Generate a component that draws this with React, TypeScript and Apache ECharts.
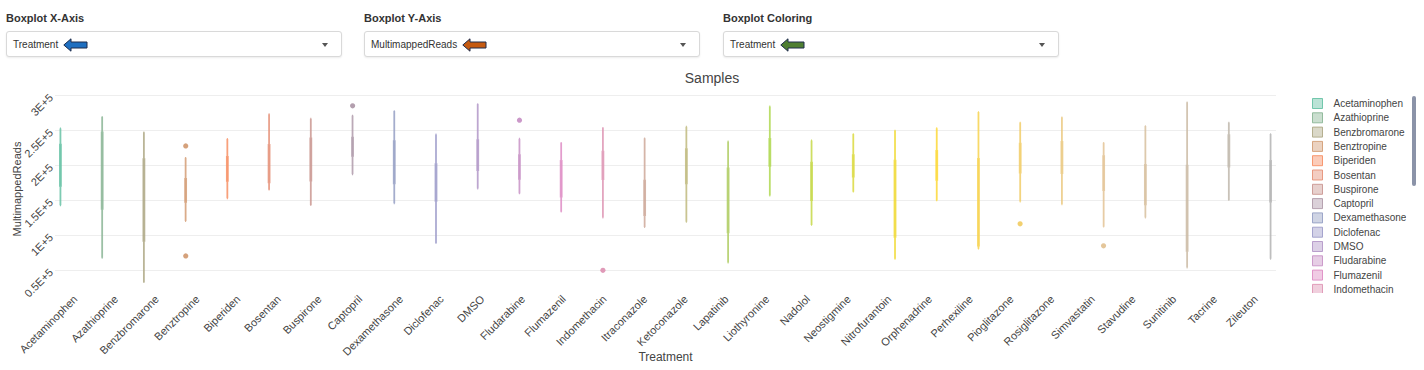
import React, { useEffect, useRef } from "react";
import * as echarts from "echarts";

// ---------- data ----------
const categories = [
  "Acetaminophen", "Azathioprine", "Benzbromarone", "Benztropine", "Biperiden",
  "Bosentan", "Buspirone", "Captopril", "Dexamethasone", "Diclofenac",
  "DMSO", "Fludarabine", "Flumazenil", "Indomethacin", "Itraconazole",
  "Ketoconazole", "Lapatinib", "Liothyronine", "Nadolol", "Neostigmine",
  "Nitrofurantoin", "Orphenadrine", "Perhexiline", "Pioglitazone", "Rosiglitazone",
  "Simvastatin", "Stavudine", "Sunitinib", "Tacrine", "Zileuton",
];
const lowerWhisker = [
  143000, 68000, 33000, 120500, 153000, 165500, 143500, 187500, 146000, 89000,
  167000, 160000, 134000, 125500, 112000, 119500, 61000, 157000, 115000, 162500,
  66500, 150000, 81000, 148500, 144500, 112500, 125500, 54000, 150500, 66500,
];
const q1 = [
  171000, 138000, 92000, 148000, 178000, 176000, 178500, 214000, 174500, 149500,
  193500, 181000, 155500, 180500, 129000, 174500, 104500, 199500, 150500, 184000,
  98000, 179500, 85500, 190000, 189000, 165000, 144500, 78000, 198500, 148500,
];
const median = [
  200000, 192000, 150000, 165000, 195000, 203000, 209000, 227000, 205000, 176000,
  215000, 198000, 181000, 200000, 154000, 199000, 150000, 219000, 177000, 199500,
  152000, 200000, 147000, 210000, 211000, 189000, 172000, 139000, 221000, 177000,
];
const q3 = [
  230000, 247500, 209000, 181000, 212500, 229500, 239000, 240000, 235000, 202000,
  236500, 215000, 206500, 220000, 178500, 223500, 196000, 238000, 204000, 215000,
  207000, 221000, 209500, 231500, 234000, 213500, 201000, 200000, 243500, 206500,
];
const upperWhisker = [
  253000, 269500, 247500, 211000, 238000, 273500, 267000, 271500, 278000, 244500,
  288000, 238500, 232500, 254000, 239000, 255500, 234500, 284500, 236000, 245000,
  250000, 253500, 276500, 261500, 269000, 232500, 256500, 290500, 261500, 245000,
];
const outlierCategory = [
  "Benztropine", "Benztropine", "Captopril", "Fludarabine", "Indomethacin", "Pioglitazone", "Simvastatin",
];
const outlierValue = [228000, 70500, 285500, 265000, 50000, 116500, 85000];
const yTickValues = [50000, 100000, 150000, 200000, 250000, 300000];
// legend entries visible in the scrolled legend window
const visibleLegendCount = 14;

const controlLabels = ["Boxplot X-Axis", "Boxplot Y-Axis", "Boxplot Coloring"];
const controlValues = ["Treatment", "MultimappedReads", "Treatment"];

// ---------- styles ----------
const FONT = '"Liberation Sans", Arial, Helvetica, sans-serif';
const SET2 = ["#66c2a5", "#fc8d62", "#8da0cb", "#e78ac3", "#a6d854", "#ffd92f", "#e5c494", "#b3b3b3"];
const controlLeft = [6, 364, 723];
const controlArrowColor = ["#1f6fc0", "#c55a11", "#4e7e31"];

function hexToRgb(h: string) {
  const n = parseInt(h.slice(1), 16);
  return [(n >> 16) & 255, (n >> 8) & 255, n & 255];
}
function rampColor(i: number, n: number) {
  const t = (i / (n - 1)) * (SET2.length - 1);
  const a = Math.floor(t);
  const b = Math.min(a + 1, SET2.length - 1);
  const f = t - a;
  const ca = hexToRgb(SET2[a]);
  const cb = hexToRgb(SET2[b]);
  return ca.map((v, k) => Math.round(v + (cb[k] - v) * f));
}
function rgba(c: number[], a: number) {
  return `rgba(${c[0]},${c[1]},${c[2]},${a})`;
}

const Arrow = ({ color }: { color: string }) => (
  <svg width="25" height="14" viewBox="0 0 25 14" style={{ display: "block" }}>
    <polygon
      points="0.8,7 8,0.8 8,4 24,4 24,10 8,10 8,13.2"
      fill={color}
      stroke="#1f2d4d"
      strokeWidth="1"
      strokeLinejoin="miter"
    />
  </svg>
);

const Control = ({ i }: { i: number }) => (
  <div style={{ position: "absolute", left: controlLeft[i], top: 0, width: 336 }}>
    <div
      style={{
        position: "absolute", left: 0, top: 11, fontSize: 11, fontWeight: "bold",
        color: "#333", lineHeight: "14px", whiteSpace: "nowrap",
      }}
    >
      {controlLabels[i]}
    </div>
    <div
      style={{
        position: "absolute", left: 0, top: 31, width: 336, height: 26, boxSizing: "border-box",
        border: "1px solid #d9d9d9", borderRadius: 3, background: "#fff",
        boxShadow: "0 1px 2px rgba(0,0,0,0.08)",
      }}
    >
      <div
        style={{
          position: "absolute", left: 6, top: 6, fontSize: 10, color: "#333",
          lineHeight: "12px", display: "flex", alignItems: "center", whiteSpace: "nowrap",
        }}
      >
        <span>{controlValues[i]}</span>
        <span style={{ marginLeft: 5 }}>
          <Arrow color={controlArrowColor[i]} />
        </span>
      </div>
      <div
        style={{
          position: "absolute", right: 13, top: 11, width: 0, height: 0,
          borderLeft: "3px solid transparent", borderRight: "3px solid transparent",
          borderTop: "4px solid #555",
        }}
      />
    </div>
  </div>
);

export default function App() {
  const ref = useRef<HTMLDivElement>(null);

  useEffect(() => {
    if (!ref.current) return;
    const chart = echarts.init(ref.current, undefined, { renderer: "svg" });
    const n = categories.length;
    const colors = categories.map((_, i) => rampColor(i, n));

    const boxSeries = categories.map((name, k) => ({
      type: "boxplot",
      name,
      boxWidth: [1, 1],
      itemStyle: {
        color: rgba(colors[k], 0.5),
        borderColor: rgba(colors[k], 0.85),
        borderWidth: 1.8,
      },
      emphasis: { disabled: true },
      data: categories.map((_, j) =>
        j === k
          ? [lowerWhisker[k], q1[k], median[k], q3[k], upperWhisker[k]]
          : ["-", "-", "-", "-", "-"]
      ),
    }));

    const outlierData = outlierCategory.map((c, i) => [categories.indexOf(c), outlierValue[i]]);

    const outlierSeries = {
      type: "custom",
      name: "outliers",
      encode: { x: 0, y: 1 },
      data: outlierData,
      renderItem: (params: any, api: any) => {
        const k = api.value(0);
        const v = api.value(1);
        const pt = api.coord([k, v]);
        const bw = api.size([1, 0])[0];
        const avail = bw * 0.8 - 2;
        const off = (k - (n - 1) / 2) * (avail / n);
        return {
          type: "circle",
          shape: { cx: pt[0] + off, cy: pt[1], r: 2.6 },
          style: { fill: rgba(colors[k], 0.95) },
        };
      },
    };

    chart.setOption({
      animation: false,
      textStyle: { fontFamily: FONT },
      title: {
        text: "Samples",
        left: "center",
        top: 70,
        padding: 0,
        textStyle: { fontSize: 14, fontWeight: "normal", color: "#444", fontFamily: FONT, lineHeight: 16 },
      },
      grid: { left: 55, top: 88, width: 1221, height: 202, containLabel: false, outerBoundsMode: "none" },
      legend: {
        type: "scroll",
        orient: "vertical",
        left: 1312,
        top: 98,
        height: 196,
        padding: 0,
        itemWidth: 10,
        itemHeight: 10,
        itemGap: 3.3,
        icon: "rect",
        pageIconSize: 1,
        pageButtonGap: 0,
        pageButtonItemGap: 0,
        pageFormatter: "",
        pageIconColor: "transparent",
        pageIconInactiveColor: "transparent",
        pageTextStyle: { color: "transparent", fontSize: 1 },
        textStyle: { fontSize: 10, color: "#444", fontFamily: FONT, lineHeight: 10, padding: [0, 0, 0, 6] },
        data: categories.slice(0, visibleLegendCount).map((name, k) => ({
          name,
          itemStyle: { color: rgba(colors[k], 0.45), borderColor: rgba(colors[k], 0.9), borderWidth: 1 },
        })),
      },
      xAxis: {
        type: "category",
        data: categories,
        boundaryGap: true,
        axisLine: { show: false },
        axisTick: { show: false },
        splitLine: { show: false },
        axisLabel: { interval: 0, rotate: 45, margin: 7, fontSize: 11, color: "#444", fontFamily: FONT },
        name: "Treatment",
        nameLocation: "middle",
        nameGap: 61,
        nameMoveOverlap: false,
        nameTextStyle: { fontSize: 12, color: "#444", fontFamily: FONT },
      },
      yAxis: {
        type: "value",
        min: 21800,
        max: 311000,
        axisLine: { show: false },
        axisTick: { show: false, customValues: yTickValues },
        splitLine: { show: true, lineStyle: { color: "#eeeeee", width: 1 } },
        axisLabel: {
          customValues: yTickValues,
          rotate: 45,
          margin: 4,
          fontSize: 11,
          color: "#444",
          fontFamily: FONT,
          formatter: (v: number) => `${v / 100000}E+5`,
        },
        name: "MultimappedReads",
        nameLocation: "middle",
        nameGap: 33,
        nameMoveOverlap: false,
        nameTextStyle: { fontSize: 11, color: "#444", fontFamily: FONT },
      },
      graphic: [
        {
          type: "rect",
          shape: { x: 1412, y: 96, width: 4, height: 90, r: 2 },
          style: { fill: "#8b93a8" },
          silent: true,
        },
      ],
      series: [...boxSeries, outlierSeries],
    });

    return () => chart.dispose();
  }, []);

  return (
    <div
      style={{
        position: "absolute", left: 0, top: 0, width: 1424, height: 370,
        fontFamily: FONT, background: "#fff", overflow: "hidden",
      }}
    >
      <div ref={ref} style={{ position: "absolute", left: 0, top: 0, width: 1424, height: 370 }} />
      {controlLabels.map((_, i) => (
        <Control key={i} i={i} />
      ))}
    </div>
  );
}
